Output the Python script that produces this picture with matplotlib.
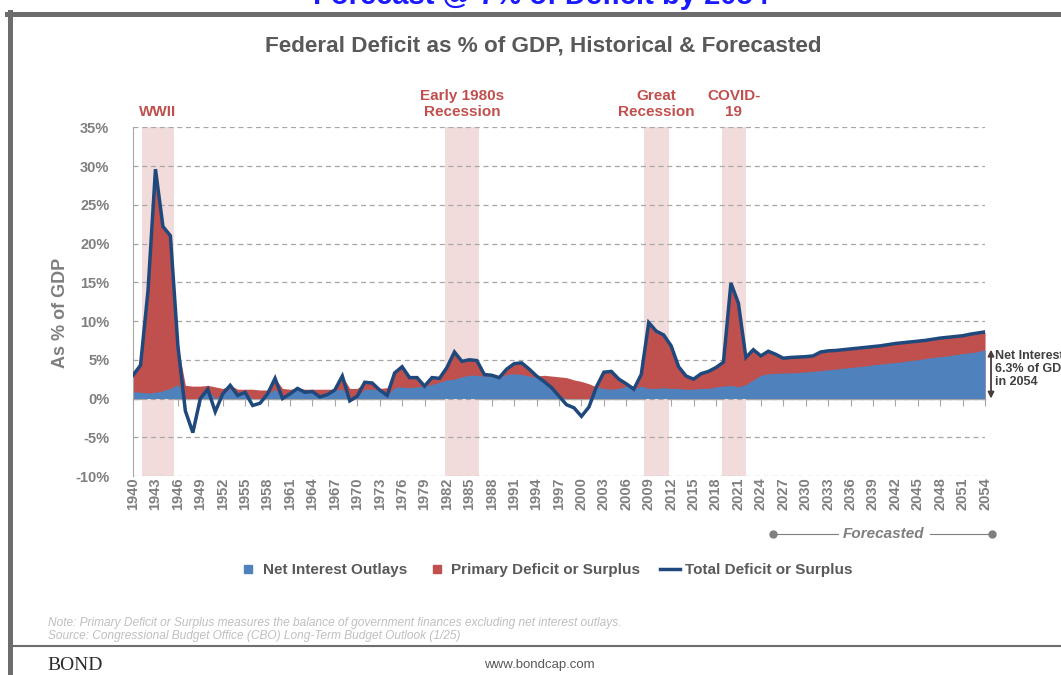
import numpy as np
import matplotlib
matplotlib.use("Agg")
import matplotlib.pyplot as plt
from matplotlib.lines import Line2D
from matplotlib.transforms import blended_transform_factory

plt.rcParams['font.family'] = ['Liberation Sans', 'DejaVu Sans']

# ---- data ----
years = np.arange(1940, 2055)

# total deficit, % of GDP (positive = deficit)
total = [
    3.0, 4.3, 13.9, 29.6, 22.2, 21.0, 6.8, -1.6, -4.4, 0.0,      # 1940-49
    1.2, -1.7, 0.6, 1.7, 0.4, 0.8, -0.9, -0.6, 0.6, 2.6,         # 1950-59
    0.0, 0.6, 1.3, 0.8, 0.9, 0.2, 0.5, 1.1, 2.9, -0.3,           # 1960-69
    0.3, 2.1, 2.0, 1.1, 0.4, 3.3, 4.1, 2.7, 2.7, 1.6,            # 1970-79
    2.7, 2.6, 4.0, 6.0, 4.8, 5.0, 4.9, 3.1, 3.0, 2.7,            # 1980-89
    3.8, 4.5, 4.6, 3.8, 2.9, 2.2, 1.4, 0.3, -0.8, -1.2,          # 1990-99
    -2.3, -1.1, 1.5, 3.4, 3.5, 2.5, 1.9, 1.2, 3.1, 9.8,          # 2000-09
    8.7, 8.2, 6.8, 4.1, 2.9, 2.5, 3.2, 3.5, 4.0, 4.7,            # 2010-19
    14.9, 12.3, 5.3, 6.3, 5.5, 6.1, 5.7, 5.2, 5.3, 5.35,         # 2020-29
    5.4, 5.5, 6.0, 6.15, 6.2, 6.3, 6.4, 6.5, 6.6, 6.7,           # 2030-39
    6.8, 6.95, 7.1, 7.2, 7.3, 7.4, 7.5, 7.65, 7.8, 7.9,          # 2040-49
    8.0, 8.1, 8.3, 8.45, 8.6,                                    # 2050-54
]

# net interest outlays, % of GDP
interest = [
    0.9, 0.8, 0.7, 0.8, 1.0, 1.3, 1.8, 1.7, 1.6, 1.6,
    1.7, 1.5, 1.3, 1.3, 1.2, 1.2, 1.2, 1.1, 1.1, 1.2,
    1.3, 1.2, 1.2, 1.2, 1.2, 1.2, 1.2, 1.2, 1.2, 1.3,
    1.3, 1.2, 1.2, 1.3, 1.4, 1.4, 1.5, 1.4, 1.5, 1.6,
    1.8, 2.1, 2.4, 2.5, 2.8, 3.0, 3.0, 2.9, 2.9, 2.9,
    3.1, 3.2, 3.1, 2.9, 2.7, 3.0, 2.9, 2.8, 2.7, 2.4,
    2.2, 1.9, 1.5, 1.3, 1.2, 1.3, 1.6, 1.6, 1.6, 1.3,
    1.3, 1.4, 1.3, 1.3, 1.2, 1.2, 1.3, 1.3, 1.5, 1.6,
    1.7, 1.5, 1.8, 2.4, 3.0, 3.2, 3.25, 3.3, 3.3, 3.35,
    3.45, 3.5, 3.6, 3.7, 3.8, 3.9, 4.0, 4.1, 4.2, 4.35,
    4.45, 4.55, 4.65, 4.75, 4.9, 5.0, 5.15, 5.3, 5.4, 5.5,
    5.65, 5.8, 5.9, 6.05, 6.3,
]

recessions = [("WWII", 1941.2, 1945.5),
              ("Early 1980s\nRecession", 1981.7, 1986.3),
              ("Great\nRecession", 2008.4, 2011.7),
              ("COVID-\n19", 2018.8, 2022.0)]
forecast_start, forecast_end = 2025.6, 2054.9

total = np.array(total)
interest = np.array(interest)

BLUE = '#4f81bd'
RED = '#c0504d'
NAVY = '#1f497d'
GRAY = '#7f7f7f'
DARK = '#595959'

fig = plt.figure(figsize=(10.61, 6.75), dpi=100)
ax = fig.add_axes([0.1254, 0.2948, 0.8030, 0.5166])

# recession shading
for name, a, b in recessions:
    ax.axvspan(a, b, color='#f2dcdb', zorder=0.1, lw=0)
    ax.text((a + b) / 2, 1.024, name, transform=blended_transform_factory(ax.transData, ax.transAxes),
            ha='center', va='bottom', color=RED, fontsize=11, fontweight='bold', linespacing=1.15)

# areas
red_top = np.maximum(total, interest)
blue_top = np.clip(np.minimum(total, interest), 0, None)
ax.fill_between(years, 0, red_top, color=RED, lw=0, zorder=2)
ax.fill_between(years, 0, blue_top, color=BLUE, lw=0, zorder=2.1)
ax.plot(years, total, color=NAVY, lw=2.5, zorder=3, solid_joinstyle='miter')

ax.set_xlim(1940, 2054)
ax.set_ylim(-10, 35)
ax.set_yticks(np.arange(-10, 36, 5))
ax.set_yticklabels([f"{v}%" for v in range(-10, 36, 5)])
ax.yaxis.grid(True, ls=(0, (4, 3)), color='#a6a6a6', lw=0.9)
ax.set_axisbelow(True)
for s in ['top', 'right', 'bottom']:
    ax.spines[s].set_visible(False)
ax.spines['left'].set_color('#a6a6a6')
ax.tick_params(axis='y', length=0, pad=17, labelsize=10.5, labelcolor=GRAY)
for lab in ax.get_yticklabels():
    lab.set_fontweight('bold')

xt = years[::3]
ax.set_xticks(xt)
ax.set_xticklabels([str(y) for y in xt], rotation=90, fontsize=10.5, fontweight='bold', color=GRAY)
ax.tick_params(axis='x', length=0, pad=1)

# zero line with tick marks
sec = ax.secondary_xaxis(10 / 45)
sec.set_xticks(xt)
sec.tick_params(axis='x', length=5, color='#a6a6a6', labelbottom=False, labeltop=False, direction='out')
sec.spines['bottom'].set_color('#a6a6a6')
sec.spines['bottom'].set_linewidth(1.0)

ax.set_ylabel("As % of GDP", fontsize=13, fontweight='bold', color=GRAY)
ax.yaxis.set_label_coords(-0.075, 0.468)

# net interest arrow in 2054
ax.annotate('', xy=(2054.8, 0), xytext=(2054.8, interest[-1]),
            arrowprops=dict(arrowstyle='<|-|>', color='#4a3c3c', lw=1.3, mutation_scale=9,
                            shrinkA=0, shrinkB=0), annotation_clip=False)
ax.text(2055.3, interest[-1] * 0.6, f"Net Interest\n{interest[-1]:.1f}% of GDP\nin 2054",
        fontsize=9, fontweight='bold', color='#404040', va='center', ha='left', linespacing=1.1,
        clip_on=False)

# forecasted marker
tr = blended_transform_factory(ax.transData, ax.transAxes)
fy = -0.166
gap_a, gap_b = 2034.3, 2046.6
ax.plot([forecast_start, gap_a], [fy, fy], transform=tr, color=GRAY, lw=0.8, clip_on=False)
ax.plot([gap_b, forecast_end], [fy, fy], transform=tr, color=GRAY, lw=0.8, clip_on=False)
ax.plot([forecast_start, forecast_end], [fy, fy], 'o', transform=tr, color=GRAY, ms=5, clip_on=False)
ax.text((gap_a + gap_b) / 2, fy, "Forecasted", transform=tr, ha='center', va='center',
        fontsize=11, fontstyle='italic', fontweight='bold', color=GRAY)

# legend
handles = [Line2D([], [], marker='s', ls='', color=BLUE, ms=6),
           Line2D([], [], marker='s', ls='', color=RED, ms=6),
           Line2D([], [], color=NAVY, lw=2.5)]
labels = ["Net Interest Outlays", "Primary Deficit or Surplus", "Total Deficit or Surplus"]
leg = fig.legend(handles, labels, loc='center', bbox_to_anchor=(0.514, 0.1556), ncol=3, frameon=False,
                 handlelength=1.3, handletextpad=0.3, columnspacing=1.3,
                 prop={'weight': 'bold', 'size': 11})
for t in leg.get_texts():
    t.set_color(DARK)

# titles and texts
fig.text(0.512, 1 - 46 / 675, "Federal Deficit as % of GDP, Historical & Forecasted",
         ha='center', va='center', fontsize=16.2, fontweight='bold', color=DARK)
fig.text(0.510, 1 - 4 / 675, "Forecast @ 7% of Deficit by 2054", ha='center', va='baseline',
         fontsize=21, fontweight='bold', color='#1a1aff')
fig.text(48 / 1061, 1 - 623 / 675, "Note: Primary Deficit or Surplus measures the balance of government finances excluding net interest outlays.",
         fontsize=8.6, fontstyle='italic', color='#bfbfbf', va='center')
fig.text(48 / 1061, 1 - 636 / 675, "Source: Congressional Budget Office (CBO) Long-Term Budget Outlook (1/25)",
         fontsize=8.6, fontstyle='italic', color='#bfbfbf', va='center')
fig.text(47 / 1061, 1 - 665 / 675, "BOND", fontsize=14, family='Liberation Serif', color='#2b2b2b', va='center')
fig.text(539 / 1061, 1 - 665 / 675, "www.bondcap.com", fontsize=9.5, color=DARK, ha='center', va='center')

# outer frame
W, H = 1061, 675
fig.add_artist(Line2D([9.5 / W, 9.5 / W], [0, 1 - 12 / H], transform=fig.transFigure, color='#6d6d6d', lw=3.6))
fig.add_artist(Line2D([7 / W, 1], [1 - 14 / H, 1 - 14 / H], transform=fig.transFigure, color='#6d6d6d', lw=3.6))
fig.add_artist(Line2D([9 / W, 1], [1 - 646 / H, 1 - 646 / H], transform=fig.transFigure, color='#6d6d6d', lw=1.5))

fig.savefig("out.png", dpi=100)
